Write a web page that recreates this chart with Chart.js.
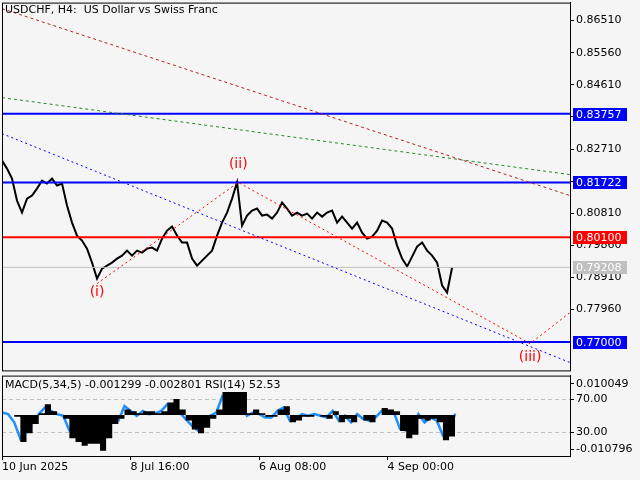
<!DOCTYPE html>
<html><head><meta charset="utf-8">
<script src="https://cdn.jsdelivr.net/npm/chart.js@4"></script>
<style>
html,body{margin:0;padding:0;background:#f5f5f5;width:640px;height:480px;overflow:hidden;position:relative}
#c1{position:absolute;left:0;top:-6px}
#c2{position:absolute;left:0;top:367px}
</style></head><body>
<canvas id="c1" width="640" height="385"></canvas>
<canvas id="c2" width="640" height="113"></canvas>
<script>
// ---- data ----
const title = "USDCHF, H4:  US Dollar vs Swiss Franc";
const xTickDays = [0, 28.67, 57.33, 86];
const xTickLabels = ["10 Jun 2025", "8 Jul 16:00", "6 Aug 08:00", "4 Sep 00:00"];
const priceTicks = [0.86510,0.85560,0.84610,0.83660,0.82710,0.81760,0.80810,0.79860,0.78910,0.77960];
const priceStepDays = 1.1156;
const prices = [0.82368,0.82131,0.81835,0.81185,0.80830,0.81244,0.81333,0.81540,0.81777,0.81688,0.81835,0.81628,0.81688,0.81037,0.80534,0.80149,0.80001,0.79764,0.79350,0.78876,0.79172,0.79261,0.79350,0.79468,0.79557,0.79705,0.79557,0.79705,0.79646,0.79764,0.79794,0.79705,0.80060,0.80297,0.80415,0.80149,0.79942,0.79942,0.79468,0.79261,0.79409,0.79557,0.79705,0.80149,0.80534,0.80830,0.81244,0.81722,0.80445,0.80741,0.80888,0.80948,0.80741,0.80770,0.80652,0.80830,0.81125,0.80948,0.80741,0.80830,0.80741,0.80800,0.80652,0.80830,0.80711,0.80830,0.80888,0.80534,0.80711,0.80534,0.80356,0.80534,0.80238,0.80060,0.80120,0.80297,0.80593,0.80534,0.80356,0.79853,0.79468,0.79232,0.79528,0.79824,0.79942,0.79705,0.79557,0.79350,0.78670,0.78463,0.79208];
const levels = [
  {v:0.83757, c:"#0000ff", t:"0.83757"},
  {v:0.81722, c:"#0000ff", t:"0.81722"},
  {v:0.80100, c:"#ff0000", t:"0.80100"},
  {v:0.77000, c:"#0000ff", t:"0.77000"},
  {v:0.79208, c:"#c0c0c0", t:"0.79208"}
];
const brownLine = [[0,0.86865],[126.7,0.81332]];
const greenLine = [[0,0.84232],[126.7,0.81954]];
const blueLine = [[0,0.83167],[126.7,0.76392]];
const waveLine = [[21.2,0.78729],[52.7,0.81722],[117.8,0.76954],[126.7,0.77871]];
const waveLabels = [{t:"(i)",d:21.2,p:0.7846},{t:"(ii)",d:52.7,p:0.8226},{t:"(iii)",d:117.8,p:0.7655}];
const indStepDays = 1.366;
const macd = [0,0,-0.0005,-0.0079,-0.0053,-0.0026,0.0005,0.0032,0.0011,0,-0.0011,-0.0068,-0.0079,-0.0090,-0.0084,-0.0084,-0.0105,-0.0068,-0.0026,-0.0011,0.0016,0.0011,0.0005,0.0011,0.0011,0.0005,0.0011,0.0037,0.0047,0.0016,-0.0016,-0.0042,-0.0053,-0.0037,-0.0011,0.0016,0.0068,0.0068,0.0068,0.0068,0.0005,0.0016,0.0005,-0.0005,-0.0005,0.0016,0.0026,-0.0021,-0.0016,-0.0005,-0.0005,0,-0.0005,-0.0011,0.0011,-0.0021,-0.0011,-0.0021,0,-0.0016,-0.0021,0,0.0021,0.0016,0.0011,-0.0047,-0.0068,-0.0058,-0.0011,-0.0016,-0.0011,-0.0021,-0.0074,-0.0063,-0.0011];
const rsi = [54,52,42,22,34,42,52,60,56,52,50,32,30,26,30,26,20,30,46,44,62,56,50,56,52,53,56,64,60,54,46,38,32,40,50,54,74,72,72,68,50,54,52,48,48,56,60,44,46,52,50,52,50,48,56,44,50,42,52,46,44,48,56,54,54,34,32,32,52,42,48,44,26,30,52.53];
const indTickVals = [88.8,70,30,8.8];
const indTickLabels = ["0.010049","70.00","30.00","-0.010796"];
const indText = "MACD(5,34,5) -0.001299 -0.002801 RSI(14) 52.53";

// ---- helpers ----
const FONT = "DejaVu Sans";
const pts = (arr, step) => arr.map((v,i)=>({x:i*step, y:v}));
const seg = a => a.map(p=>({x:p[0],y:p[1]}));
const XMAX = 126.7;

const frame = {id:'frame', afterDatasetsDraw(ch){const a=ch.chartArea,c=ch.ctx;c.save();c.strokeStyle='#000';c.lineWidth=1;c.strokeRect(a.left+0.5,a.top+0.5,a.right-a.left,a.bottom-a.top);c.restore();}};

const main = {id:'mainDeco', afterDraw(ch){
  const c=ch.ctx, xs=ch.scales.x, ys=ch.scales.y, a=ch.chartArea;
  c.save();
  c.font="11px "+FONT; c.fillStyle="#000"; c.textBaseline="top"; c.textAlign="left";
  c.fillText(title,a.left+3,a.top+2);
  c.font="14px "+FONT; c.fillStyle="#ff0000"; c.textAlign="center"; c.textBaseline="middle";
  waveLabels.forEach(w=>c.fillText(w.t,xs.getPixelForValue(w.d),ys.getPixelForValue(w.p)));
  c.font="11px "+FONT; c.textAlign="left"; c.textBaseline="middle";
  levels.forEach(l=>{const y=Math.round(ys.getPixelForValue(l.v));
    c.fillStyle=l.c; c.fillRect(a.right+3,y-6,54,13);
    c.fillStyle="#fff"; c.fillText(l.t,a.right+6,y+1);});
  c.restore();
}};

const lineDs = (data,color,w,dash)=>({data,borderColor:color,borderWidth:w,borderDash:dash,pointRadius:0,tension:0,fill:false});

new Chart(document.getElementById('c1'),{
  type:'line',
  data:{datasets:[
    lineDs(seg(brownLine),'#b22222',1,[3,3]),
    lineDs(seg(greenLine),'#228b22',1,[3,3]),
    lineDs(seg(blueLine),'#0000ff',1,[2,3]),
    lineDs(seg(waveLine),'#ff0000',1,[2,3]),
    ...levels.map(l=>lineDs([{x:0,y:l.v},{x:XMAX,y:l.v}],l.c,l.c==='#c0c0c0'?1:2,[])),
    lineDs(pts(prices,priceStepDays),'#000',2,[])
  ]},
  options:{animation:false,responsive:false,events:[],
    layout:{padding:{left:2,top:0,right:0,bottom:0}},
    plugins:{legend:{display:false},tooltip:{enabled:false}},
    scales:{
      x:{type:'linear',min:0,max:XMAX,display:false},
      y:{position:'right',min:0.7616,max:0.87043,
        afterBuildTicks(s){s.ticks=priceTicks.map(v=>({value:v}));},
        afterFit(s){s.width=70;},
        ticks:{font:{family:FONT,size:11},color:'#000',padding:2,callback:v=>v.toFixed(5)},
        grid:{drawOnChartArea:false,tickLength:4,color:'#000'},border:{color:'#000'}}
    }},
  plugins:[frame,main]
});

const ind = {id:'indDeco', beforeDatasetsDraw(ch){
  const c=ch.ctx,a=ch.chartArea,r=ch.scales.yr;
  c.save();c.strokeStyle='#c0c0c0';c.setLineDash([4,3]);c.lineWidth=1;
  [70,30].forEach(v=>{const y=Math.round(r.getPixelForValue(v))+0.5;c.beginPath();c.moveTo(a.left,y);c.lineTo(a.right,y);c.stroke();});
  c.restore();
}, afterDraw(ch){const c=ch.ctx;c.save();c.font="11px "+FONT;c.fillStyle="#000";c.textBaseline="top";c.fillText(indText,5,ch.chartArea.top+4);c.restore();}};

new Chart(document.getElementById('c2'),{
  type:'line',
  data:{datasets:[
    {data:pts(macd,indStepDays),yAxisID:'ym',borderWidth:0,borderColor:'#000',backgroundColor:'#000',pointRadius:0,stepped:true,fill:{value:0}},
    {data:pts(rsi,indStepDays),yAxisID:'yr',borderColor:'#1e90ff',borderWidth:2.5,pointRadius:0,tension:0,fill:false}
  ]},
  options:{animation:false,responsive:false,events:[],
    layout:{padding:{left:2,top:0,right:0,bottom:0}},
    plugins:{legend:{display:false},tooltip:{enabled:false}},
    scales:{
      x:{type:'linear',min:0,max:XMAX,
        afterBuildTicks(s){s.ticks=xTickDays.map(v=>({value:v}));},
        afterFit(s){s.height=24;},
        ticks:{font:{family:FONT,size:11},color:'#000',align:'start',maxRotation:0,autoSkip:false,padding:1,
          callback:(v,i)=>xTickLabels[i]},
        grid:{drawOnChartArea:false,tickLength:4,color:'#000'},border:{color:'#000'}},
      yr:{type:'linear',position:'right',min:1,max:99,
        afterBuildTicks(s){s.ticks=indTickVals.map(v=>({value:v}));},
        afterFit(s){s.width=70;},
        ticks:{font:{family:FONT,size:11},color:'#000',padding:2,callback:(v,i)=>indTickLabels[i]},
        grid:{drawOnChartArea:false,tickLength:4,color:'#000'},border:{color:'#000'}},
      ym:{type:'linear',display:false,min:-0.012007,max:0.011576}
    }},
  plugins:[frame,ind]
});
</script></body></html>
